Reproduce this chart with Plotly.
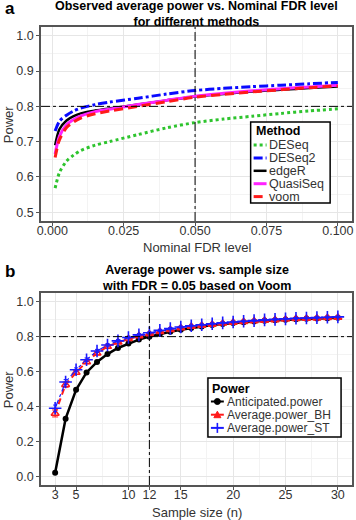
import plotly.graph_objects as go

# ---------------- Data: panel a ----------------
fdr_levels = [0.001, 0.0025, 0.005, 0.0075, 0.01, 0.015, 0.02, 0.03, 0.04, 0.05,
              0.06, 0.07, 0.08, 0.09, 0.1]
power_DESeq = [0.568, 0.612, 0.645, 0.662, 0.675, 0.690, 0.700, 0.720, 0.739, 0.754,
               0.764, 0.772, 0.780, 0.787, 0.793]
power_DESeq2 = [0.730, 0.758, 0.775, 0.787, 0.795, 0.805, 0.812, 0.823, 0.835, 0.845,
                0.851, 0.856, 0.860, 0.864, 0.868]
power_edgeR = [0.690, 0.735, 0.760, 0.772, 0.780, 0.788, 0.794, 0.805, 0.817, 0.828,
               0.835, 0.842, 0.847, 0.852, 0.856]
power_QuasiSeq = [0.665, 0.715, 0.748, 0.763, 0.773, 0.785, 0.792, 0.805, 0.817, 0.829,
                  0.837, 0.844, 0.850, 0.855, 0.860]
power_voom = [0.655, 0.705, 0.740, 0.756, 0.767, 0.779, 0.787, 0.800, 0.813, 0.826,
              0.834, 0.841, 0.847, 0.853, 0.858]
methods = ["DESeq", "DESeq2", "edgeR", "QuasiSeq", "voom"]
fdr_ticks = [0.0, 0.025, 0.05, 0.075, 0.1]
fdr_tick_labels = ["0.000", "0.025", "0.050", "0.075", "0.100"]
power_ticks_a = [0.5, 0.6, 0.7, 0.8, 0.9, 1.0]

# ---------------- Data: panel b ----------------
sample_size = [3, 4, 5, 6, 7, 8, 9, 10, 11, 12, 13, 14, 15, 16, 17, 18, 19, 20,
               21, 22, 23, 24, 25, 26, 27, 28, 29, 30]
anticipated_power = [0.02, 0.33, 0.495, 0.595, 0.655, 0.700, 0.735, 0.760, 0.783, 0.800,
                     0.815, 0.828, 0.840, 0.850, 0.858, 0.866, 0.872, 0.878, 0.883, 0.887,
                     0.891, 0.894, 0.897, 0.900, 0.902, 0.904, 0.906, 0.908]
average_power_BH = [0.360, 0.525, 0.595, 0.655, 0.705, 0.743, 0.768, 0.788, 0.804, 0.815,
                    0.828, 0.840, 0.850, 0.858, 0.864, 0.870, 0.876, 0.881, 0.885, 0.889,
                    0.893, 0.896, 0.899, 0.902, 0.904, 0.906, 0.908, 0.910]
average_power_ST = [0.390, 0.540, 0.610, 0.668, 0.718, 0.752, 0.776, 0.795, 0.810, 0.822,
                    0.836, 0.846, 0.855, 0.862, 0.868, 0.874, 0.879, 0.884, 0.888, 0.892,
                    0.896, 0.899, 0.902, 0.905, 0.907, 0.909, 0.911, 0.913]
err_BH = [0.020, 0.015, 0.012, 0.010, 0.009, 0.008, 0.008, 0.007, 0.007, 0.006,
          0.006, 0.006, 0.006, 0.005, 0.005, 0.005, 0.005, 0.005, 0.005, 0.005,
          0.005, 0.005, 0.005, 0.005, 0.005, 0.005, 0.005, 0.005]
err_ST = [0.018, 0.014, 0.011, 0.010, 0.009, 0.008, 0.008, 0.007, 0.007, 0.006,
          0.006, 0.006, 0.006, 0.005, 0.005, 0.005, 0.005, 0.005, 0.005, 0.005,
          0.005, 0.005, 0.005, 0.005, 0.005, 0.005, 0.005, 0.005]
power_series = ["Anticipated.power", "Average.power_BH", "Average.power_ST"]
n_ticks = [3, 5, 10, 12, 15, 20, 25, 30]
power_ticks_b = [0.0, 0.2, 0.4, 0.6, 0.8, 1.0]

fdr_cutoff = 0.05
target_power = 0.8
chosen_n = 12

# ---------------- Layout helpers ----------------
W, H = 356, 520
ML, MR, MT, MB = 41, 2, 27, 35
PW, PH = W - ML - MR, H - MT - MB
FONT = "Liberation Sans, Arial, Helvetica, sans-serif"
GRID = "#e6e6e6"
MINOR = "#f3f3f3"
BORDER = "#555555"
TXT = "#333333"


def px(x):
    return (x - ML) / PW


def py(y):
    return (H - MB - y) / PH


dom_a = [py(221), 1.0]
dom_b = [0.0, py(293)]

fig = go.Figure()

# ---------------- Panel a traces ----------------
styles_a = {
    "DESeq": dict(color="#2ec42e", dash="dot", width=3),
    "DESeq2": dict(color="#0a0aff", dash="dashdot", width=3),
    "edgeR": dict(color="black", dash="solid", width=2.5),
    "QuasiSeq": dict(color="#ff22ff", dash="solid", width=3),
    "voom": dict(color="#ff1a1a", dash="9px,5px", width=3),
}
values_a = {
    "DESeq": power_DESeq, "DESeq2": power_DESeq2, "edgeR": power_edgeR,
    "QuasiSeq": power_QuasiSeq, "voom": power_voom,
}
for m in ["DESeq", "edgeR", "QuasiSeq", "voom", "DESeq2"]:
    fig.add_trace(go.Scatter(
        x=fdr_levels, y=values_a[m], mode="lines", name=m, showlegend=False,
        line=dict(shape="spline", smoothing=0.8, **styles_a[m]),
        xaxis="x", yaxis="y"))

# ---------------- Panel b traces ----------------
fig.add_trace(go.Scatter(
    x=sample_size, y=anticipated_power, mode="lines+markers", name=power_series[0],
    showlegend=False, line=dict(color="black", width=2.5),
    marker=dict(symbol="circle", size=6, color="black"),
    xaxis="x2", yaxis="y2"))
fig.add_trace(go.Scatter(
    x=sample_size, y=average_power_BH, mode="lines+markers", name=power_series[1],
    showlegend=False, line=dict(color="#ff1a1a", width=2, dash="6px,4px"),
    marker=dict(symbol="triangle-up-open", size=7, color="#ff1a1a", line=dict(width=1.5)),
    error_y=dict(type="data", array=err_BH, color="#ff1a1a", thickness=1, width=3),
    xaxis="x2", yaxis="y2"))
fig.add_trace(go.Scatter(
    x=sample_size, y=average_power_ST, mode="lines+markers", name=power_series[2],
    showlegend=False, line=dict(color="#1a1aff", width=1.2, dash="dashdot"),
    marker=dict(symbol="cross-thin", size=9, color="#1a1aff", line=dict(width=1.6, color="#1a1aff")),
    error_y=dict(type="data", array=err_ST, color="#1a1aff", thickness=1, width=2),
    xaxis="x2", yaxis="y2"))

axis_common = dict(
    showline=True, mirror=True, linecolor=BORDER, linewidth=1.8,
    ticks="outside", ticklen=3, tickcolor=BORDER, tickwidth=1,
    showgrid=True, gridcolor=GRID, gridwidth=1, zeroline=False,
    tickfont=dict(family=FONT, size=12.5, color=TXT),
)

fig.update_layout(
    width=W, height=H,
    margin=dict(l=ML, r=MR, t=MT, b=MB),
    paper_bgcolor="white", plot_bgcolor="white",
    showlegend=False,
    font=dict(family=FONT, color=TXT),
    xaxis=dict(domain=[0, 1], anchor="y", range=[-0.00395, 0.10495],
               tickmode="array", tickvals=fdr_ticks, ticktext=fdr_tick_labels,
               ticklabelstandoff=-6,
               minor=dict(tickmode="array", tickvals=[0.0125, 0.0375, 0.0625, 0.0875],
                          showgrid=True, gridcolor=MINOR, ticks=""),
               **axis_common),
    yaxis=dict(domain=dom_a, anchor="x", range=[0.475, 1.025],
               tickmode="array", tickvals=power_ticks_a, tickformat=".1f",
               minor=dict(tickmode="array", tickvals=[0.55, 0.65, 0.75, 0.85, 0.95],
                          showgrid=True, gridcolor=MINOR, ticks=""),
               **axis_common),
    xaxis2=dict(domain=[0, 1], anchor="y2", range=[1.65, 31.35],
                tickmode="array", tickvals=n_ticks, ticklabelstandoff=-6,
                minor=dict(tickmode="array", tickvals=[7.5, 17.5, 22.5, 27.5],
                           showgrid=True, gridcolor=MINOR, ticks=""),
                **axis_common),
    yaxis2=dict(domain=dom_b, anchor="x2", range=[-0.05, 1.05],
                tickmode="array", tickvals=power_ticks_b, tickformat=".1f",
                minor=dict(tickmode="array", tickvals=[0.1, 0.3, 0.5, 0.7, 0.9],
                           showgrid=True, gridcolor=MINOR, ticks=""),
                **axis_common),
)

shapes = []
annots = []

# reference lines
ref = dict(color="black", width=1, dash="dashdot")
shapes.append(dict(type="line", xref="x domain", yref="y", x0=0, x1=1,
                   y0=target_power, y1=target_power, line=ref))
shapes.append(dict(type="line", xref="x", yref="y domain", x0=fdr_cutoff, x1=fdr_cutoff,
                   y0=0, y1=1, line=ref))
shapes.append(dict(type="line", xref="x2 domain", yref="y2", x0=0, x1=1,
                   y0=target_power, y1=target_power, line=ref))
shapes.append(dict(type="line", xref="x2", yref="y2 domain", x0=chosen_n, x1=chosen_n,
                   y0=0, y1=1, line=ref))


def text(x, y, s, size=12.5, bold=False, xanchor="center", color=TXT, angle=0):
    annots.append(dict(
        xref="paper", yref="paper", x=px(x), y=py(y), text=f"<b>{s}</b>" if bold else s,
        showarrow=False, xanchor=xanchor, yanchor="middle", textangle=angle,
        borderpad=0, font=dict(family=FONT, size=size, color=color)))


# titles & panel letters
text(197.5, 14, "Observed average power vs. Nominal FDR level<br>for different methods",
     size=12.5, bold=True, color="black")
text(10, 8, "a", size=17, bold=True, color="black")
text(197.5, 277.5, "Average power vs. sample size<br>with FDR = 0.05 based on Voom",
     size=12.5, bold=True, color="black")
text(10, 271, "b", size=17, bold=True, color="black")

# axis titles
text(197.5, 248, "Nominal FDR level", size=13)
text(197.5, 512, "Sample size (n)", size=13)
text(8, 124, "Power", size=13, angle=-90)
text(8, 389, "Power", size=13, angle=-90)

# legend a (drawn from methods/styles)
x0p, x1p, y0p, y1p = 252, 332, 122, 203
shapes.append(dict(type="rect", xref="paper", yref="paper", x0=px(x0p), x1=px(x1p),
                   y0=py(y1p), y1=py(y0p), line=dict(color="black", width=1.5),
                   fillcolor="white", layer="above"))
text(256, 131, "Method", size=12.5, bold=True, xanchor="left", color="black")
for i, m in enumerate(methods):
    yy = 145 + i * 12.9
    st = styles_a[m]
    shapes.append(dict(type="line", xref="paper", yref="paper", x0=px(255), x1=px(268),
                       y0=py(yy), y1=py(yy),
                       line=dict(color=st["color"], width=st["width"], dash=st["dash"])))
    text(269, yy, m, size=12.5, xanchor="left")

# legend b
x0p, x1p, y0p, y1p = 209, 343, 378, 437
shapes.append(dict(type="rect", xref="paper", yref="paper", x0=px(x0p), x1=px(x1p),
                   y0=py(y1p), y1=py(y0p), line=dict(color="black", width=1.5),
                   fillcolor="white", layer="above"))
text(212, 389, "Power", size=12.5, bold=True, xanchor="left", color="black")
key_cols = ["black", "#ff1a1a", "#1a1aff"]
for i, s in enumerate(power_series):
    yy = 401.5 + i * 13.2
    c = key_cols[i]
    shapes.append(dict(type="line", xref="paper", yref="paper", x0=px(212), x1=px(225),
                       y0=py(yy), y1=py(yy), line=dict(color=c, width=2)))
    cx, cy = px(218.5), py(yy)
    if i == 0:
        shapes.append(dict(type="circle", xref="paper", yref="paper", xsizemode="pixel",
                           ysizemode="pixel", xanchor=cx, yanchor=cy, x0=-3, x1=3, y0=-3, y1=3,
                           fillcolor=c, line=dict(color=c, width=1)))
    elif i == 1:
        shapes.append(dict(type="path", xref="paper", yref="paper", xsizemode="pixel",
                           ysizemode="pixel", xanchor=cx, yanchor=cy,
                           path="M -3.5,-3 L 3.5,-3 L 0,3.5 Z",
                           fillcolor=c, line=dict(color=c, width=1)))
    else:
        shapes.append(dict(type="line", xref="paper", yref="paper", xsizemode="pixel",
                           ysizemode="pixel", xanchor=cx, yanchor=cy, x0=0, x1=0, y0=-5, y1=5,
                           line=dict(color=c, width=1.6)))
    text(227, yy, s, size=12, xanchor="left")

fig.update_layout(shapes=shapes, annotations=annots)
fig.write_html("out.html", config={"displayModeBar": False},
               post_script="document.body.style.margin='0px';document.body.style.overflow='hidden';")
